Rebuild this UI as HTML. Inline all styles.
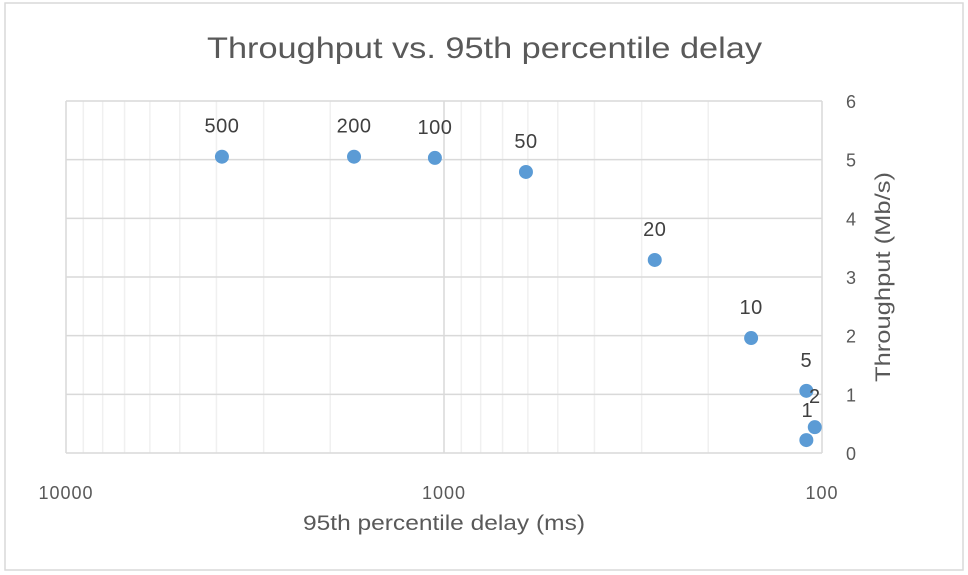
<!DOCTYPE html>
<html><head><meta charset="utf-8"><style>
body{margin:0;background:#fff;font-family:"Liberation Sans",sans-serif;}
svg{display:block}
</style></head><body>
<svg width="968" height="575">
<rect x="0" y="0" width="968" height="575" fill="#fff"/>
<rect x="5" y="3" width="958" height="567" fill="#fff" stroke="#d9d9d9" stroke-width="1.5"/>
<text x="207" y="58" textLength="555" lengthAdjust="spacingAndGlyphs" font-size="30" fill="#595959">Throughput vs. 95th percentile delay</text>
<g id="grid"></g>
<g id="marks"></g>
<text x="303" y="530" textLength="282" lengthAdjust="spacingAndGlyphs" font-size="21" fill="#595959">95th percentile delay (ms)</text>
<text transform="translate(890,382) rotate(-90)" textLength="210" lengthAdjust="spacingAndGlyphs" font-size="21" fill="#595959">Throughput (Mb/s)</text>
</svg>
<script>
const labels=["500","200","100","50","20","10","5","2","1"];
const delays=[3868,1730,1057,607,277,154,110,104.5,110];
const throughput=[5.05,5.05,5.03,4.79,3.29,1.96,1.06,0.44,0.22];
const yTicks=[0,1,2,3,4,5,6];
const xTicks=[10000,1000,100];
const L=66,R=822,T=101,B=453;
const NS="http://www.w3.org/2000/svg";
function xs(d){return L+(4-Math.log10(d))/2*(R-L);}
function ys(v){return B-v/6*(B-T);}
function mk(tag,attrs,parent){const e=document.createElementNS(NS,tag);for(const k in attrs)e.setAttribute(k,attrs[k]);parent.appendChild(e);return e;}
const g=document.getElementById('grid'),m=document.getElementById('marks');
for(const base of [1000,100]){for(let k=2;k<=9;k++){const l=mk('line',{x1:xs(base*k),x2:xs(base*k),y1:T,y2:B,stroke:'#f0f0f0','stroke-width':1.5},g);

}}
for(const t of xTicks){const l=mk('line',{x1:xs(t),x2:xs(t),y1:T,y2:B,stroke:'#d9d9d9','stroke-width':1.5},g);


const tx=mk('text',{x:xs(t),y:499,'text-anchor':'middle','font-size':18,'letter-spacing':1,fill:'#595959'},g);tx.textContent=t;

}
for(const t of yTicks){const l=mk('line',{x1:L,x2:R,y1:ys(t),y2:ys(t),stroke:'#d9d9d9','stroke-width':1.5},g);


const tx=mk('text',{x:846,y:ys(t)+7,'text-anchor':'start','font-size':18,fill:'#595959'},g);tx.textContent=t;

}
for(let i=0;i<labels.length;i++){const cx=xs(delays[i]),cy=ys(throughput[i]);
const c=mk('circle',{cx:cx,cy:cy,r:7,fill:'#5b9bd5'},m);


let lx=cx,ly=cy-24;
if(labels[i]==='2'){lx=cx;ly=cy-24;}
if(labels[i]==='1'){lx=cx+1;ly=cy-23;}
const t=mk('text',{x:lx,y:ly,'text-anchor':'middle','font-size':20,'letter-spacing':0.5,fill:'#404040'},m);t.textContent=labels[i];

}
</script>
</body></html>
